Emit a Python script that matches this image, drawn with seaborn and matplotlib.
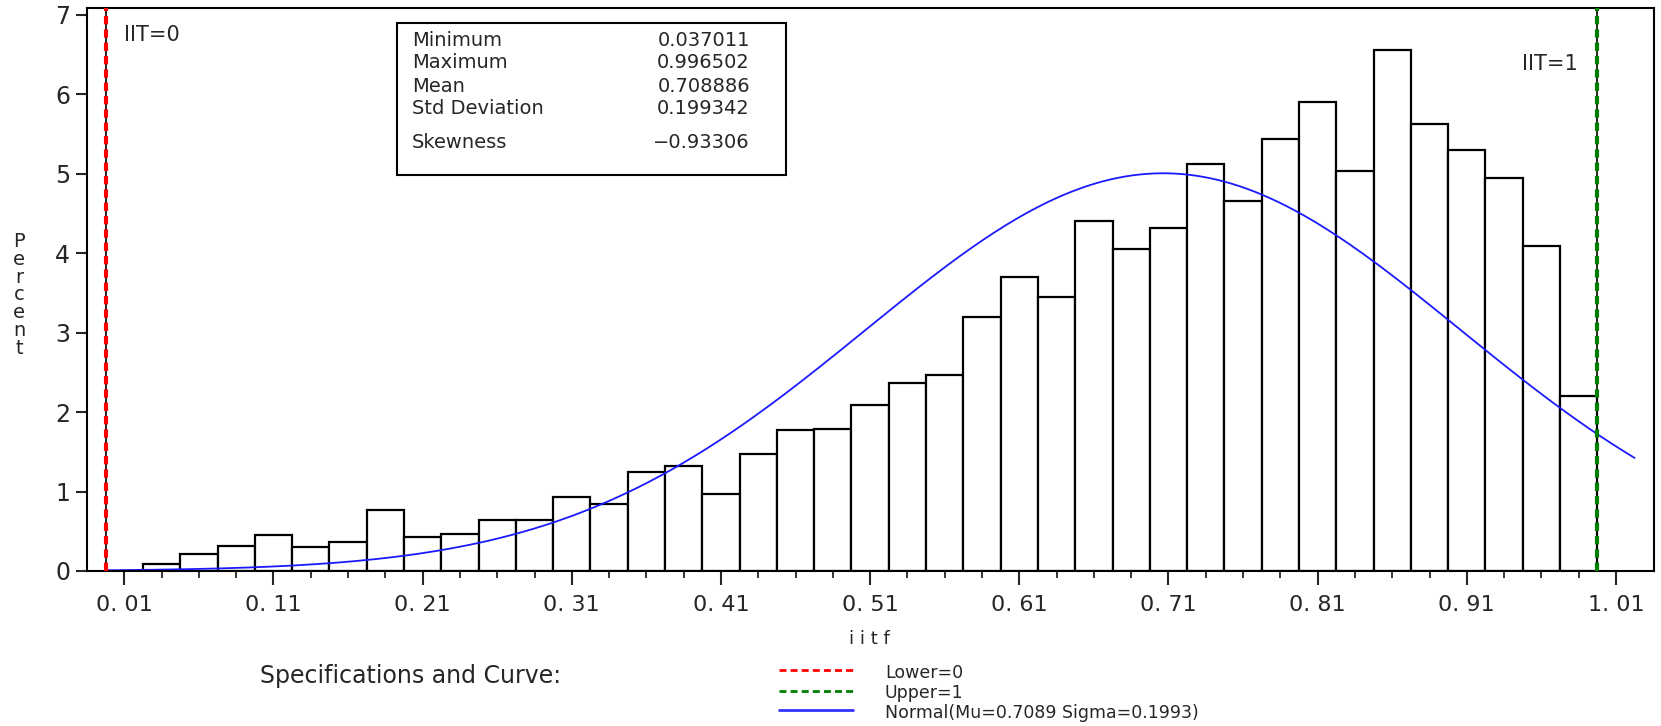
import numpy as np
import matplotlib
matplotlib.use("Agg")
import matplotlib.pyplot as plt
from matplotlib.lines import Line2D
from matplotlib.patches import Rectangle
from matplotlib.ticker import FixedLocator
import seaborn as sns

# --- data ---
bin_width = 0.025
bin_centers = [0.0375, 0.0625, 0.0875, 0.1125, 0.1375, 0.1625, 0.1875, 0.2125, 0.2375, 0.2625,
               0.2875, 0.3125, 0.3375, 0.3625, 0.3875, 0.4125, 0.4375, 0.4625, 0.4875, 0.5125,
               0.5375, 0.5625, 0.5875, 0.6125, 0.6375, 0.6625, 0.6875, 0.7125, 0.7375, 0.7625,
               0.7875, 0.8125, 0.8375, 0.8625, 0.8875, 0.9125, 0.9375, 0.9625, 0.9875]
percent = [0.09, 0.21, 0.32, 0.45, 0.30, 0.36, 0.77, 0.43, 0.46, 0.64,
           0.64, 0.93, 0.84, 1.25, 1.32, 0.97, 1.47, 1.77, 1.79, 2.09,
           2.36, 2.47, 3.20, 3.70, 3.45, 4.40, 4.05, 4.32, 5.12, 4.66,
           5.44, 5.90, 5.03, 6.56, 5.62, 5.30, 4.94, 4.09, 2.20]

# SAS puts the tick marks at the bin midpoints 0.0125, 0.1125, ... and rounds the labels
xtick_values = [0.0125, 0.1125, 0.2125, 0.3125, 0.4125, 0.5125,
                0.6125, 0.7125, 0.8125, 0.9125, 1.0125]
xtick_labels = ["0. 01", "0. 11", "0. 21", "0. 31", "0. 41", "0. 51",
                "0. 61", "0. 71", "0. 81", "0. 91", "1. 01"]
ytick_values = [0, 1, 2, 3, 4, 5, 6, 7]

lower_spec = 0
upper_spec = 1
mu = 0.7089
sigma = 0.1993

stat_names = ["Minimum", "Maximum", "Mean", "Std Deviation", "Skewness"]
stat_values = ["0.037011", "0.996502", "0.708886", "0.199342", "\u22120.93306"]

W, H = 1661, 726


def px(x, y):
    return x / W, 1 - y / H


sns.set_style("white")
plt.rcParams['font.family'] = ['DejaVu Sans']

fig = plt.figure(figsize=(W / 100, H / 100), dpi=100)
ax = fig.add_axes([87 / W, 1 - 571 / H, (1654 - 87) / W, (571 - 7.5) / H])

edges = [c - bin_width / 2 for c in bin_centers] + [bin_centers[-1] + bin_width / 2]
sns.histplot(x=bin_centers, weights=percent, bins=edges, stat="count",
             color="white", edgecolor="black", linewidth=1.6, alpha=1, ax=ax)

# fitted normal curve, scaled to percent per bin
xs = np.linspace(0, 1.025, 400)
ys = 100 * bin_width * np.exp(-0.5 * ((xs - mu) / sigma) ** 2) / (sigma * np.sqrt(2 * np.pi))
sns.lineplot(x=xs, y=ys, color="#1a1aff", linewidth=1.3, ax=ax)

# spec limits
for xv, col in [(lower_spec, "#ff0000"), (upper_spec, "#008000")]:
    ax.axvline(xv, color="black", linewidth=1.2, zorder=5)
    ax.axvline(xv, color=col, linewidth=3, linestyle=(0, (2, 1.2)), zorder=6)

ax.set_xlim(-0.0125, 1.038)
ax.set_ylim(0, 7.09)
ax.set_xticks(xtick_values)
ax.set_xticklabels(xtick_labels, fontsize=16)
ax.xaxis.set_minor_locator(FixedLocator(bin_centers))
ax.set_yticks(ytick_values)
ax.set_yticklabels([str(v) for v in ytick_values], fontsize=17)
ax.tick_params(axis="x", which="major", direction="out", length=10, width=1.5, pad=7, bottom=True)
ax.tick_params(axis="x", which="minor", direction="out", length=5, width=1.3, bottom=True)
ax.tick_params(axis="y", direction="out", length=8, width=1.5, pad=4, left=True)
ax.set_xlabel("")
ax.set_ylabel("")
for s in ax.spines.values():
    s.set_linewidth(1.5)
    s.set_color("black")

ax.text(0.0125, 6.75, "IIT=0", fontsize=15, va="center", ha="left")
ax.text(0.987, 6.38, "IIT=1", fontsize=15, va="center", ha="right")

# stats inset box
x0, y0 = px(397, 175)
x1, y1 = px(786, 23)
fig.add_artist(Rectangle((x0, y0), x1 - x0, y1 - y0, transform=fig.transFigure,
                         facecolor="white", edgecolor="black", linewidth=1.5, zorder=10))
for name, val, yy in zip(stat_names, stat_values, [41, 63, 86, 109, 143]):
    fig.text(*px(412, yy), name, fontsize=14, ha="left", va="center", zorder=11)
    fig.text(*px(750, yy), val, fontsize=14, ha="right", va="center", zorder=11)

# axis labels
fig.text(*px(19, 295), "\n".join("Percent"), fontsize=14, ha="center", va="center",
         linespacing=0.92)
fig.text(*px(869, 639), "i i t f", fontsize=13, ha="center", va="center")

# specification legend
fig.text(*px(260, 676), "Specifications and Curve:", fontsize=17, ha="left", va="center")
for yy, col, ls, lab in [(670, "#ff0000", (0, (2.5, 1.5)), "Lower=0"),
                         (690.5, "#008000", (0, (2.5, 1.5)), "Upper=1"),
                         (710, "#3333ff", "-", "Normal(Mu=0.7089 Sigma=0.1993)")]:
    xa, ya = px(779, yy)
    xb, _ = px(853, yy)
    fig.add_artist(Line2D([xa, xb], [ya, ya], transform=fig.transFigure,
                          color=col, linewidth=2, linestyle=ls))
    fig.text(*px(885, yy + 3), lab, fontsize=12.5, ha="left", va="center")

fig.savefig("out.png", dpi=100)
plt.close(fig)
